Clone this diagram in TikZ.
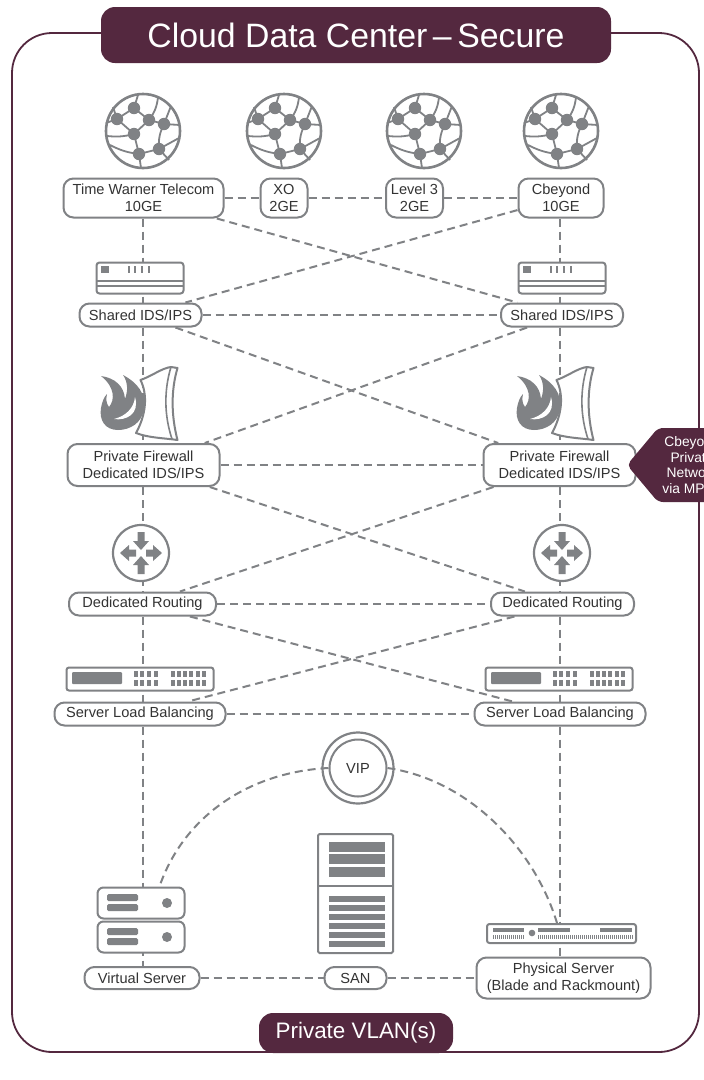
\documentclass[tikz,border=0pt]{standalone}
\usepackage{fontspec}
\setmainfont{Liberation Sans}
\definecolor{plum}{HTML}{54283F}
\definecolor{netgray}{HTML}{808285}
\definecolor{labeltext}{HTML}{333333}
\tikzset{
  globeicon/.pic={
    \foreach \ax/\ay/\bx/\by/\bend in {-9/-23/-26/-12/0,-9/-23/6/-11/0,-26/-12/-9/3/0,6/-11/-9/3/0,6/-11/21/-7/0,-9/3/-4/23/0,-4/23/16/18/0,16/18/21/-7/15,
        -9/-23/-5/-36/0,6/-11/15/-34/-15,21/-7/37/-6/0,21/-7/28/-25/0,-26/-12/-37/-8/0,-26/-12/-30/-24/0,-9/3/-36/5/10,16/18/36/7/0,16/18/26/29/0,-4/23/-33/14/10,-4/23/-2/37/0}
      \draw[netgray,line width=1.8pt] (\ax,\ay) to[bend left=\bend] (\bx,\by);
    \draw[netgray,line width=2.6pt] (0,0) circle (37);
    \foreach \ax/\ay in {-9/-23,-26/-12,6/-11,21/-7,-9/3,16/18,-4/23}
      \fill[netgray] (\ax,\ay) circle (6.2);
  },
  idsicon/.pic={
    \draw[netgray,line width=2pt,fill=white,rounded corners=3pt] (-43.5,-15.5) rectangle (43.5,15.5);
    \fill[netgray] (-39,-12) rectangle (-31,-5);
    \foreach \x in {-11,-5,2,9} \draw[netgray,line width=1.2pt] (\x,-12) -- (\x,-5);
    \foreach \y in {3,8} \draw[netgray,line width=1.4pt] (-43.5,\y) -- (43.5,\y);
  },
  fireicon/.pic={
    \fill[netgray] (-21,-25) .. controls (-6,-17) and (2,-6) .. (0,9) .. controls (-2,23) and (-14,30) .. (-26,30)
      .. controls (-39,30) and (-45,20) .. (-43,8) .. controls (-42,2) and (-40,-3) .. (-37,-6)
      .. controls (-38,-1) and (-38,3) .. (-35,7) .. controls (-29,0) and (-29,-13) .. (-43,-24)
      .. controls (-29,-22) and (-20,-14) .. (-19,-1) .. controls (-16,-9) and (-16,-18) .. (-21,-25) -- cycle;
    \fill[white] (-9,-3) .. controls (-10,8) and (-18,16) .. (-30,19) .. controls (-18,21) and (-4,14) .. (-9,-3) -- cycle;
    \draw[netgray,line width=2pt,fill=white,line join=round] (-3.5,-20) .. controls (8,-24) and (18,-32) .. (27,-33) -- (33.5,-32)
      .. controls (27,-10) and (27,15) .. (33.5,40) .. controls (20,38) and (5,38) .. (-8,33) .. controls (2,15) and (4,-5) .. (-3.5,-20) -- cycle;
    \draw[netgray,line width=1.6pt] (27,-33) .. controls (20,-10) and (20,15) .. (28,39);
  },
  routericon/.pic={
    \draw[netgray,line width=2.2pt,fill=white] (0,0) circle (28);
    \foreach \ang in {0,180} \fill[netgray,rotate=\ang] (5,-3.5) -- (12,-3.5) -- (12,-8) -- (21,0) -- (12,8) -- (12,3.5) -- (5,3.5) -- cycle;
    \foreach \ang in {90,270} \fill[netgray,rotate=\ang] (21,-3.5) -- (12,-3.5) -- (12,-8) -- (3,0) -- (12,8) -- (12,3.5) -- (21,3.5) -- cycle;
  },
  balancericon/.pic={
    \draw[netgray,line width=2pt,fill=white,rounded corners=2.5pt] (-73.5,-11.5) rectangle (73.5,11.5);
    \fill[netgray,rounded corners=1pt] (-68,-7) rectangle (-18,5);
    \foreach \x in {-4,2,9,16,33,39,45,51,58,64} \foreach \y in {-5,4}
      \fill[netgray] (\x-1.9,\y-2.6) rectangle (\x+1.9,\y+2.6);
  },
  rackicon/.pic={
    \draw[netgray,line width=2pt,fill=white,rounded corners=2.5pt] (-75,-9.5) rectangle (74,9.5);
    \foreach \a/\b in {-69/-38,-24/8,38/70} \fill[netgray] (\a,-6) rectangle (\b,-1.5);
    \fill[netgray] (-30,-0.5) circle (3.3);
    \foreach \x in {-69,-67,...,-38,-24,-22,...,70} \draw[netgray,line width=.8pt] (\x,1.5) -- (\x,5.5);
  },
  servericon/.pic={
    \foreach \y in {-17,17} {
      \draw[netgray,line width=2pt,fill=white,rounded corners=6pt] (-43.5,\y-15.5) rectangle (43.5,\y+15.5);
      \fill[netgray,rounded corners=1.5pt] (-34,\y-9) rectangle (-3,\y-2);
      \fill[netgray,rounded corners=1.5pt] (-34,\y+1) rectangle (-3,\y+8);
      \fill[netgray] (26,\y) circle (5);
    }
  },
  sanicon/.pic={
    \draw[netgray,line width=2pt,fill=white,rounded corners=1.5pt] (-37.5,-59.5) rectangle (37.5,59.5);
    \draw[netgray,line width=2pt] (-37.5,-8) -- (37.5,-8);
    \foreach \y in {-52,-40,-27} \fill[netgray] (-27,\y) rectangle (29,\y+10);
    \foreach \y in {2,11,20,29,38,47} \fill[netgray] (-27,\y) rectangle (29,\y+6.3);
  }
}
\begin{document}
\begin{tikzpicture}[x=1pt,y=-1pt,
   lab/.style 2 args={draw=netgray,line width=2pt,fill=white,text=labeltext,align=center,
     rounded corners=10pt,inner sep=0pt,minimum width=#1,minimum height=#2,
     font=\fontsize{14.6}{16.6}\selectfont},
   banner/.style={fill=plum,text=white,rounded corners=14pt,inner sep=0pt},
   link/.style={draw=netgray,line width=2pt,dash pattern=on 8pt off 5pt}]
\useasboundingbox (0,0) rectangle (704,1080);
\fill[white] (0,0) rectangle (704,1080);
\draw[plum,line width=1.8pt,rounded corners=40pt] (12,33) rectangle (699,1052);

% labels
\node[lab={160pt}{39pt}] (twt) at (143.5,198) {Time Warner Telecom\\10GE};
\node[lab={47pt}{39pt}] (xo) at (284,198) {XO\\2GE};
\node[lab={57pt}{39pt}] (levelthree) at (414.5,198) {Level 3\\2GE};
\node[lab={85pt}{39pt}] (cbeyond) at (561,198) {Cbeyond\\10GE};
\node[lab={122pt}{23pt}] (idsa) at (140.5,315) {Shared IDS/IPS};
\node[lab={122pt}{23pt}] (idsb) at (562,315) {Shared IDS/IPS};
\node[lab={152pt}{42pt}] (fwa) at (143.5,465) {Private Firewall\\Dedicated IDS/IPS};
\node[lab={152pt}{42pt}] (fwb) at (559.5,465) {Private Firewall\\Dedicated IDS/IPS};
\node[lab={147pt}{23pt}] (routea) at (142.5,604) {Dedicated Routing};
\node[lab={143pt}{23pt}] (routeb) at (562.5,604) {Dedicated Routing};
\node[lab={171pt}{23pt}] (slba) at (140,714) {Server Load Balancing};
\node[lab={171pt}{23pt}] (slbb) at (560,714) {Server Load Balancing};
\node[lab={115pt}{22pt}] (vserver) at (142,978) {Virtual Server};
\node[lab={62pt}{22pt}] (san) at (355.5,978) {SAN};
\node[lab={174pt}{41pt}] (pserver) at (563.5,978) {Physical Server\\(Blade and Rackmount)};
\draw[netgray,line width=2.2pt] (358,768) circle (35.5);
\node[lab={57pt}{57pt},circle] (vip) at (358,768) {VIP};

\coordinate (lx) at (143,0);
\coordinate (rx) at (560,0);
\coordinate (vsrvtop) at (160,885);
\coordinate (psrvtop) at (557,923);

% connectors
\foreach \a/\b in {twt/xo,xo/levelthree,levelthree/cbeyond,idsa/idsb,fwa/fwb,routea/routeb,slba/slbb,vserver/san,san/pserver,
    twt/idsb,cbeyond/idsa,idsa/fwb,idsb/fwa,fwa/routeb,fwb/routea,routea/slbb,routeb/slba}
  \draw[link] (\a) -- (\b);
\foreach \a/\b in {twt/idsa,idsa/fwa,fwa/routea,routea/slba,slba/vserver}
  \draw[link] (lx |- \a.south) -- (lx |- \b.north);
\foreach \a/\b in {cbeyond/idsb,idsb/fwb,fwb/routeb,routeb/slbb,slbb/pserver}
  \draw[link] (rx |- \a.south) -- (rx |- \b.north);
\draw[link] (vip.west) .. controls (250,772) and (185,815) .. (vsrvtop);
\draw[link] (vip.east) .. controls (470,780) and (535,850) .. (psrvtop);

% icons
\foreach \x in {143,284,424,561} \pic at (\x,131) {globeicon};
\foreach \x in {140,562} \pic at (\x,278) {idsicon};
\foreach \x in {144,560} \pic at (\x,400) {fireicon};
\foreach \x in {141,562} \pic at (\x,553) {routericon};
\foreach \x in {140,559} \pic at (\x,679) {balancericon};
\pic at (141,920) {servericon};
\pic at (562,933.5) {rackicon};
\pic at (355.5,893.5) {sanicon};

% banners
\node[banner,minimum width=510pt,minimum height=56pt,font=\fontsize{33.8}{38}\selectfont] (title) at (356,35) {Cloud Data Center\,–\,Secure};
\node[banner,minimum width=194pt,minimum height=40pt,font=\fontsize{22.4}{26}\selectfont] (vlan) at (356,1033) {Private VLAN(s)};
\fill[plum,rounded corners=5pt] (627,465) -- (658,428) -- (730,428) -- (730,502) -- (658,502) -- cycle;
\node[text=white,align=center,inner sep=0pt,font=\fontsize{13.8}{15.6}\selectfont] (mpls) at (692,465) {Cbeyond\\Private\\Network\\via MPLS};
\end{tikzpicture}
\end{document}
